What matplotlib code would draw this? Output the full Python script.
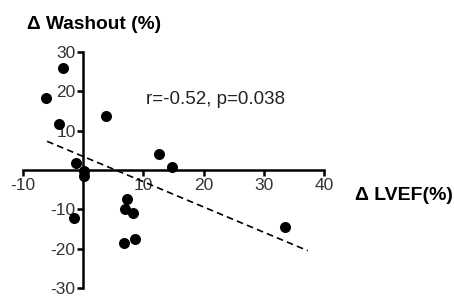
import numpy as np
import matplotlib.pyplot as plt

plt.rcParams['font.family'] = ['Liberation Sans', 'DejaVu Sans']

# change in LVEF (%) vs change in washout (%)
d_lvef = [-3.3, -6.1, -4.1, 3.8, 12.6, 14.8, -1.2, 0.2, 0.2, -1.5,
          7.3, 7.0, 8.3, 6.8, 8.6, 33.5]
d_washout = [26.0, 18.2, 11.7, 13.7, 4.2, 0.7, 1.7, -0.3, -1.5, -12.3,
             -7.3, -10.0, -10.8, -18.5, -17.5, -14.5]

# regression line endpoints
fit_x = [-6.0, 37.3]
fit_y = [7.3, -20.5]

xticks = [-10, 10, 20, 30, 40]
yticks = [-30, -20, -10, 10, 20, 30]

fig = plt.figure(figsize=(4.54, 2.97), dpi=100)
ax = fig.add_axes([0.0507, 0.030, 0.663, 0.795])

ax.scatter(d_lvef, d_washout, s=48, color='black', zorder=3, clip_on=False)
ax.plot(fit_x, fit_y, color='black', lw=1.2, ls=(0, (4, 2.5)), clip_on=False)

ax.set_xlim(-10, 40)
ax.set_ylim(-30, 30)

for side in ['top', 'right']:
    ax.spines[side].set_visible(False)
ax.spines['left'].set_position(('data', 0))
ax.spines['bottom'].set_position(('data', 0))
ax.spines['left'].set_linewidth(1.8)
ax.spines['bottom'].set_linewidth(1.8)

ax.set_xticks(xticks)
ax.set_yticks(yticks)
ax.set_xticklabels([str(t) for t in xticks])
ax.set_yticklabels([str(t) for t in yticks])
ax.tick_params(direction='out', length=4, width=1.8, labelsize=12.5,
               labelcolor='#333333', pad=1.5)

ax.text(10.4, 18, 'r=-0.52, p=0.038', fontsize=13.5, color='#222222',
        va='center', ha='left')
fig.text(0.059, 0.919, '\u0394 Washout (%)', fontsize=13.8, fontweight='bold',
         va='center', ha='left')
fig.text(0.782, 0.343, '\u0394 LVEF(%)', fontsize=14, fontweight='bold',
         va='center', ha='left')

fig.savefig('out.png', dpi=100)
